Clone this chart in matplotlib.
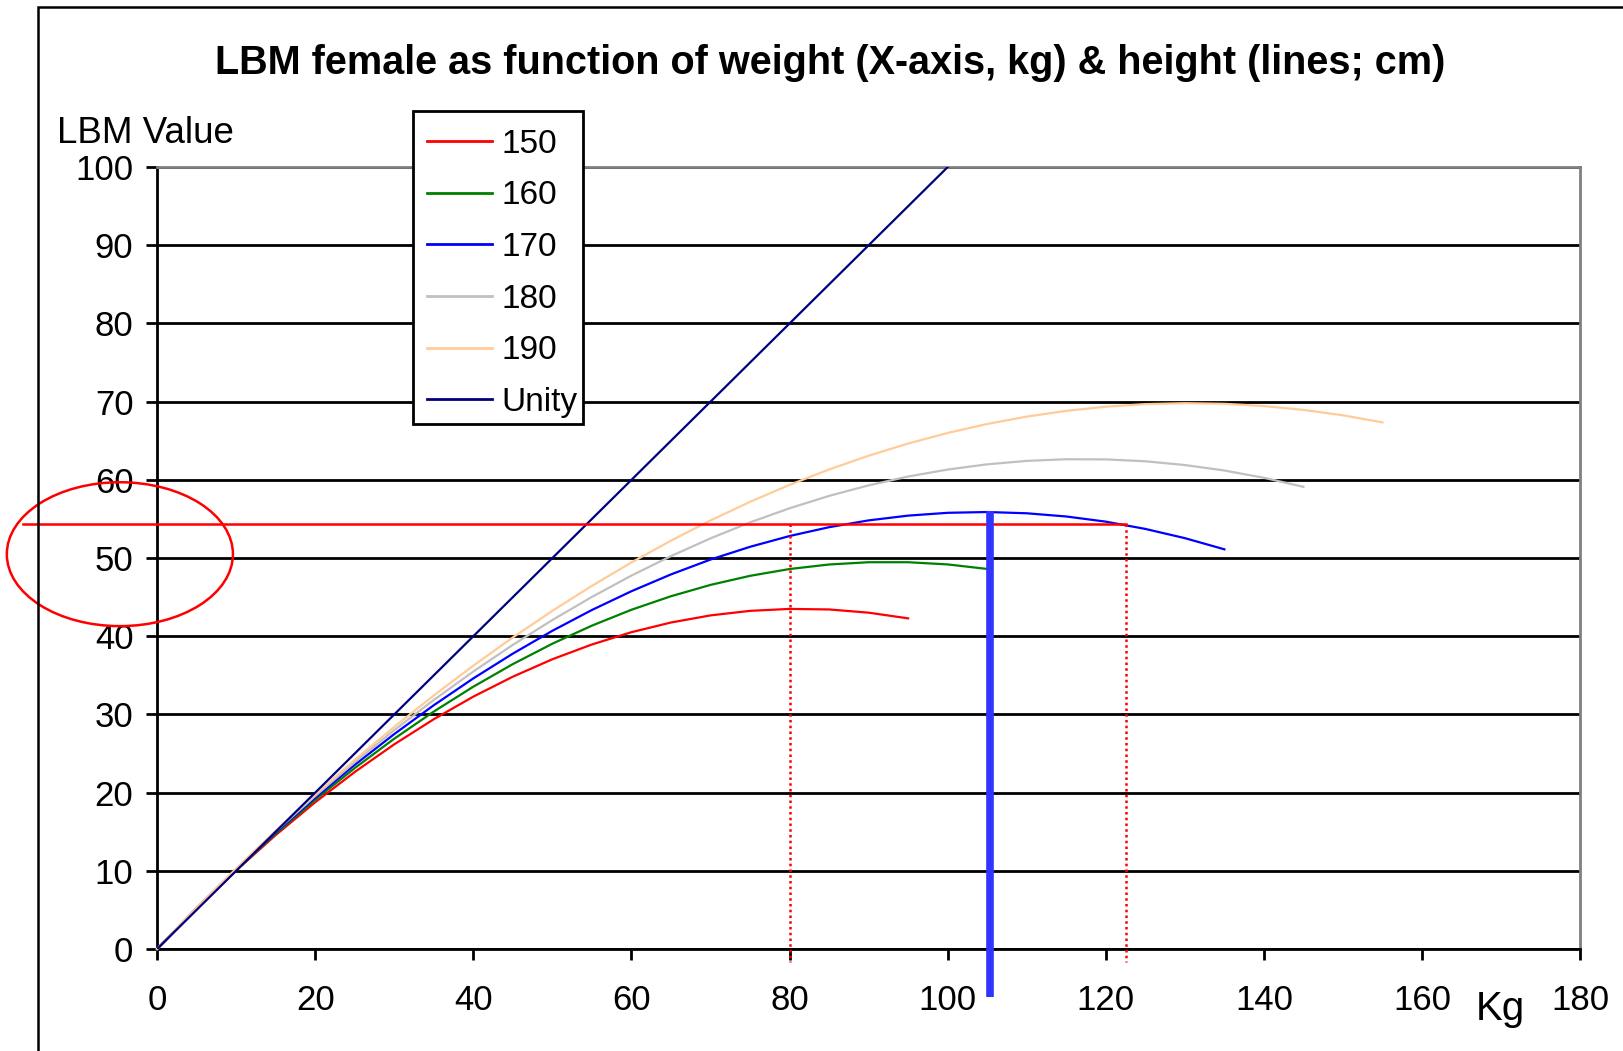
import matplotlib
matplotlib.use("Agg")
import matplotlib.pyplot as plt
from matplotlib.patches import Ellipse, Rectangle

plt.rcParams['font.family'] = ['Liberation Sans', 'DejaVu Sans']

# ---- data ----
w150 = [0, 5, 10, 15, 20, 25, 30, 35, 40, 45, 50, 55, 60, 65, 70, 75, 80, 85, 90, 95]
h150 = [0, 5.19, 10.04, 14.57, 18.77, 22.64, 26.18, 29.39, 32.28, 34.83, 37.06, 38.95,
        40.52, 41.76, 42.67, 43.25, 43.50, 43.43, 43.02, 42.29]

w160 = [0, 5, 10, 15, 20, 25, 30, 35, 40, 45, 50, 55, 60, 65, 70, 75, 80, 85, 90, 95, 100, 105]
h160 = [0, 5.21, 10.12, 14.75, 19.09, 23.14, 26.90, 30.37, 33.55, 36.44, 39.05, 41.36,
        43.39, 45.12, 46.57, 47.73, 48.60, 49.18, 49.47, 49.47, 49.19, 48.61]

w170 = [0, 5, 10, 15, 20, 25, 30, 35, 40, 45, 50, 55, 60, 65, 70, 75, 80, 85, 90, 95,
        100, 105, 110, 115, 120, 125, 130, 135]
h170 = [0, 5.22, 10.19, 14.90, 19.35, 23.55, 27.49, 31.18, 34.61, 37.78, 40.70, 43.36,
        45.76, 47.91, 49.81, 51.44, 52.82, 53.95, 54.82, 55.43, 55.79, 55.89, 55.73,
        55.32, 54.66, 53.73, 52.55, 51.12]

w180 = [0, 5, 10, 15, 20, 25, 30, 35, 40, 45, 50, 55, 60, 65, 70, 75, 80, 85, 90, 95,
        100, 105, 110, 115, 120, 125, 130, 135, 140, 145]
h180 = [0, 5.24, 10.24, 15.02, 19.57, 23.90, 27.99, 31.85, 35.49, 38.90, 42.08, 45.03,
        47.76, 50.25, 52.52, 54.56, 56.37, 57.95, 59.30, 60.43, 61.32, 61.99, 62.43,
        62.64, 62.62, 62.38, 61.90, 61.20, 60.27, 59.11]

w190 = [0, 5, 10, 15, 20, 25, 30, 35, 40, 45, 50, 55, 60, 65, 70, 75, 80, 85, 90, 95,
        100, 105, 110, 115, 120, 125, 130, 135, 140, 145, 150, 155]
h190 = [0, 5.25, 10.29, 15.13, 19.76, 24.19, 28.41, 32.43, 36.24, 39.85, 43.25, 46.45,
        49.44, 52.23, 54.81, 57.19, 59.36, 61.33, 63.09, 64.65, 66.00, 67.15, 68.09,
        68.83, 69.36, 69.69, 69.81, 69.73, 69.44, 68.95, 68.26, 67.35]

unity_x = [0, 100]
unity_y = [0, 100]

series_labels = ['150', '160', '170', '180', '190', 'Unity']
series_colors = ['#ff0000', '#008000', '#0000ff', '#c0c0c0', '#ffcc99', '#000080']

x_ticks = [0, 20, 40, 60, 80, 100, 120, 140, 160, 180]
y_ticks = [0, 10, 20, 30, 40, 50, 60, 70, 80, 90, 100]

target_lbm = 54.4
target_w_low = 80
target_w_high = 122.5
peak_w = 105.3
peak_lbm = 56.0

# ---- figure ----
fig = plt.figure(figsize=(16.24, 10.51), dpi=100)
ax = fig.add_axes([0.0967, 0.097, 0.973 - 0.0967, 0.841 - 0.097])

# outer chart border
fig.patches.append(Rectangle((0.0234, -0.2), 1.5, 0.2 + 0.9933, transform=fig.transFigure,
                             fill=False, edgecolor='black', linewidth=1.8))

ax.set_xlim(0, 180)
ax.set_ylim(0, 100)
ax.set_yticks(y_ticks)
ax.set_xticks(x_ticks)
ax.grid(axis='y', color='black', linewidth=2.0, zorder=0)
ax.set_axisbelow(True)

for s in ['top', 'right']:
    ax.spines[s].set_color('#808080')
    ax.spines[s].set_linewidth(2.0)
for s in ['left', 'bottom']:
    ax.spines[s].set_color('black')
    ax.spines[s].set_linewidth(2.0)

ax.tick_params(axis='both', direction='out', length=8, width=2.0, colors='black',
               labelsize=25)
ax.tick_params(axis='y', pad=9)
ax.tick_params(axis='x', pad=17)

data = [(w150, h150), (w160, h160), (w170, h170), (w180, h180), (w190, h190),
        (unity_x, unity_y)]
lines = []
for (xs, ys), lab, col in zip(data, series_labels, series_colors):
    ln, = ax.plot(xs, ys, color=col, linewidth=1.6, label=lab, zorder=3,
                  clip_on=(lab == 'Unity'))
    lines.append(ln)

# annotations
ax.plot([-17, target_w_high], [target_lbm, target_lbm], color='#ff0000', linewidth=1.8,
        clip_on=False, zorder=4)
ax.plot([target_w_low, target_w_low], [target_lbm, -1.7], color='#ff0000', linewidth=1.8,
        linestyle=(0, (1, 1.3)), clip_on=False, zorder=4)
ax.plot([target_w_high, target_w_high], [target_lbm, -1.7], color='#ff0000', linewidth=1.8,
        linestyle=(0, (1, 1.3)), clip_on=False, zorder=4)
ax.plot([peak_w, peak_w], [peak_lbm, -6.1], color='#3333ff', linewidth=5.5,
        clip_on=False, zorder=5, solid_capstyle='butt')
ell = Ellipse((-4.7, 50.5), 28.6, 18.4, fill=False, edgecolor='#ff0000', linewidth=1.8,
              clip_on=False, zorder=4)
ax.add_patch(ell)

# legend frame drawn by hand (box 413-583 px wide, 111-424 px tall)
W, H = 1624.0, 1051.0
frame = Rectangle((413 / W, 1 - 424 / H), (583 - 413) / W, (424 - 111) / H,
                  transform=fig.transFigure, facecolor='white', edgecolor='black',
                  linewidth=2.0, zorder=6)
fig.patches.append(frame)

leg = fig.legend(handles=lines, loc='upper left', bbox_to_anchor=(0.2545, 0.891),
                 bbox_transform=fig.transFigure, fontsize=24, frameon=False,
                 handlelength=1.93, handletextpad=0.3, labelspacing=0.62,
                 borderpad=0.42, borderaxespad=0)
for h in leg.get_lines():
    h.set_linewidth(2.0)
leg.set_zorder(7)

fig.text(0.511, 0.940, 'LBM female as function of weight (X-axis, kg) & height (lines; cm)',
         ha='center', va='center', fontsize=28.5, fontweight='bold')
fig.text(0.035, 0.873, 'LBM Value', ha='left', va='center', fontsize=26.5)
fig.text(0.9236, 0.040, 'Kg', ha='center', va='center', fontsize=29)

fig.savefig('out.png', dpi=100)
